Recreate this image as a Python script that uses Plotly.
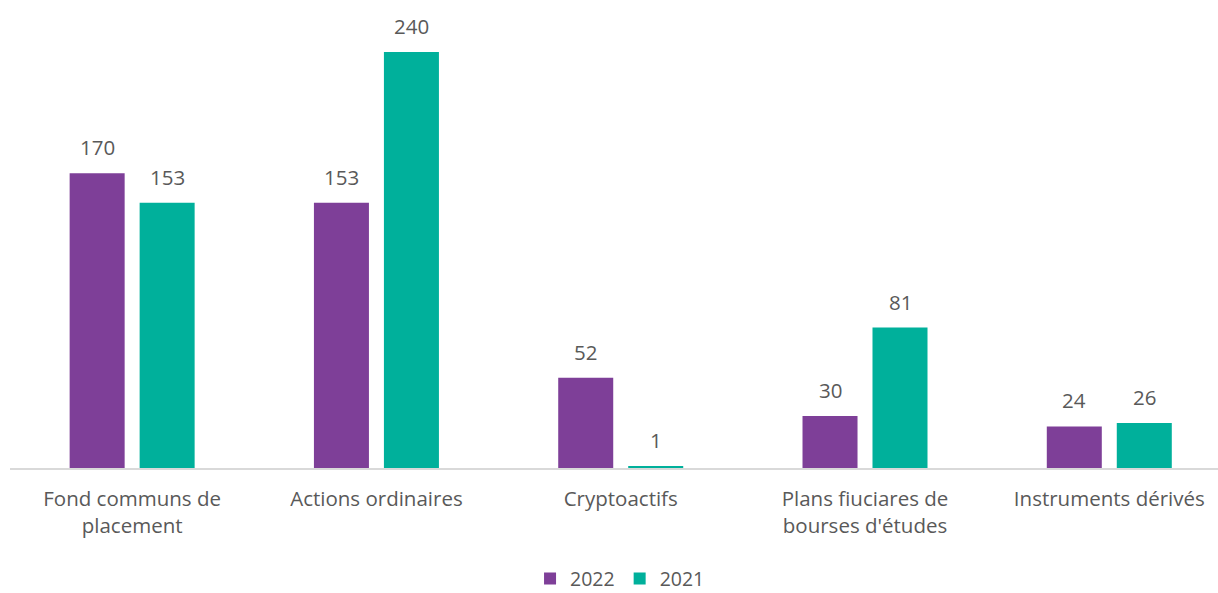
import plotly.graph_objects as go

categories = ["Fond communs de<br>placement", "Actions ordinaires", "Cryptoactifs",
              "Plans fiuciares de<br>bourses d'études", "Instruments dérivés"]
values_2022 = [170, 153, 52, 30, 24]
values_2021 = [153, 240, 1, 81, 26]

purple = "#7E3F98"
teal = "#00B09B"
txt = "#595959"
font_family = "Open Sans, Liberation Sans, sans-serif"
fs = 20.5

fig = go.Figure()
fig.add_trace(go.Bar(x=categories, y=values_2022, name="2022", marker_color=purple,
                     marker_line_width=0))
fig.add_trace(go.Bar(x=categories, y=values_2021, name="2021", marker_color=teal,
                     marker_line_width=0))

annotations = []
for series, shift in ((values_2022, -35), (values_2021, 35)):
    for c, v in zip(categories, series):
        annotations.append(dict(x=c, y=v, xref="x", yref="y", text=str(v),
                                showarrow=False, xshift=shift, yshift=26,
                                yanchor="middle",
                                font=dict(size=fs, color=txt, family=font_family)))

fig.update_layout(
    width=1218, height=593,
    margin=dict(l=10, r=0, t=17, b=125, autoexpand=False),
    paper_bgcolor="white", plot_bgcolor="white",
    barmode="group", bargap=0.427, bargroupgap=0.214,
    font=dict(family=font_family, size=fs, color=txt),
    showlegend=True,
    legend=dict(orientation="h", x=0.505, xanchor="center", yref="container",
                y=0.024, yanchor="middle",
                font=dict(size=19.5, color=txt), itemwidth=30, traceorder="normal"),
    annotations=annotations,
)
fig.update_xaxes(range=[-0.5, 4.445], showline=True, linecolor="#D9D9D9", linewidth=1.5,
                 ticks="", showgrid=False, tickfont=dict(size=fs, color=txt),
                 ticklabelstandoff=12, automargin=False)
fig.update_yaxes(range=[0, 260.2], visible=False, showgrid=False, zeroline=False)

fig.write_html("out.html")
